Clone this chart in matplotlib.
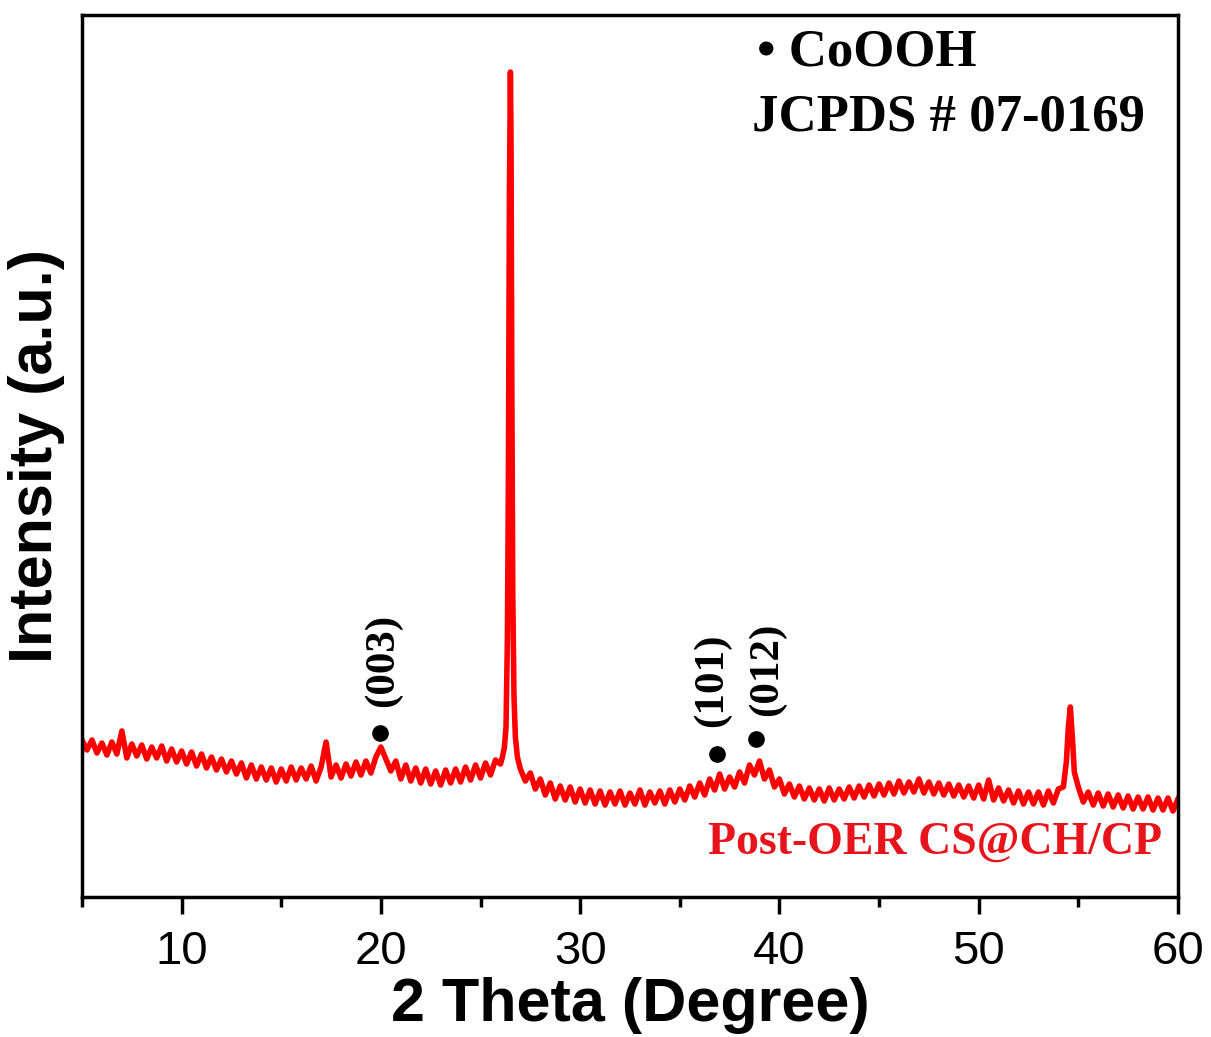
import matplotlib.pyplot as plt

# 2 theta (degree) and intensity (a.u.)
two_theta = [
    5.00, 5.25, 5.50, 5.75, 6.00, 6.25, 6.50, 6.75, 7.00, 7.25, 7.50, 7.75,
    8.00, 8.25, 8.50, 8.75, 9.00, 9.25, 9.50, 9.75,
    10.00, 10.25, 10.50, 10.75, 11.00, 11.25, 11.50, 11.75, 12.00, 12.25,
    12.50, 12.75, 13.00, 13.25, 13.50, 13.75, 14.00, 14.25, 14.50, 14.75,
    15.00, 15.25, 15.50, 15.75, 16.00, 16.25, 16.50, 16.75, 17.00, 17.25,
    17.50, 17.75, 18.00, 18.25, 18.50, 18.75, 19.00, 19.25, 19.50, 19.75,
    20.00, 20.25, 20.50, 20.75, 21.00, 21.25, 21.50, 21.75, 22.00, 22.25,
    22.50, 22.75, 23.00, 23.25, 23.50, 23.75, 24.00, 24.25, 24.50, 24.75,
    25.00, 25.25, 25.50, 25.75, 26.00, 26.10, 26.20, 26.28, 26.35, 26.40,
    26.45, 26.50, 26.53, 26.57, 26.62, 26.68, 26.75, 26.85, 27.00, 27.25,
    27.50, 27.75, 28.00, 28.25, 28.50, 28.75, 29.00, 29.25, 29.50, 29.75,
    30.00, 30.25, 30.50, 30.75, 31.00, 31.25, 31.50, 31.75, 32.00, 32.25,
    32.50, 32.75, 33.00, 33.25, 33.50, 33.75, 34.00, 34.25, 34.50, 34.75,
    35.00, 35.25, 35.50, 35.75, 36.00, 36.25, 36.50, 36.75, 37.00, 37.25,
    37.50, 37.75, 38.00, 38.25, 38.50, 38.75, 39.00, 39.25, 39.50, 39.75,
    40.00, 40.25, 40.50, 40.75, 41.00, 41.25, 41.50, 41.75, 42.00, 42.25,
    42.50, 42.75, 43.00, 43.25, 43.50, 43.75, 44.00, 44.25, 44.50, 44.75,
    45.00, 45.25, 45.50, 45.75, 46.00, 46.25, 46.50, 46.75, 47.00, 47.25,
    47.50, 47.75, 48.00, 48.25, 48.50, 48.75, 49.00, 49.25, 49.50, 49.75,
    50.00, 50.25, 50.50, 50.75, 51.00, 51.25, 51.50, 51.75, 52.00, 52.25,
    52.50, 52.75, 53.00, 53.25, 53.50, 53.75, 54.00, 54.25, 54.40, 54.50,
    54.60, 54.70, 54.80, 55.00, 55.25, 55.50, 55.75,
    56.00, 56.25, 56.50, 56.75, 57.00, 57.25, 57.50, 57.75, 58.00, 58.25,
    58.50, 58.75, 59.00, 59.25, 59.50, 59.75, 60.00,
]
intensity = [
    157, 147, 157, 144, 154, 142, 155, 143, 166, 139, 153, 141,
    152, 138, 150, 139, 151, 136, 148, 135,
    146, 133, 145, 131, 143, 129, 140, 127, 138, 125,
    136, 123, 134, 119, 132, 118, 130, 117, 129, 115,
    128, 116, 130, 117, 129, 118, 131, 116, 130, 155,
    120, 132, 119, 133, 121, 135, 122, 136, 124, 140,
    150, 138, 126, 136, 118, 132, 116, 129, 114, 128,
    113, 126, 112, 127, 114, 128, 115, 130, 117, 132,
    119, 134, 122, 137, 133, 140, 150, 170, 260, 420,
    700, 825, 760, 520, 300, 200, 160, 140, 128, 116,
    124, 108, 118, 102, 114, 98, 111, 97, 110, 95,
    108, 94, 107, 93, 106, 92, 105, 93, 106, 92,
    104, 93, 107, 92, 105, 94, 106, 93, 107, 95,
    108, 97, 111, 100, 114, 102, 118, 107, 123, 108,
    120, 110, 125, 114, 132, 122, 136, 118, 127, 110,
    118, 103, 113, 100, 111, 98, 109, 97, 108, 96,
    109, 97, 108, 98, 110, 99, 111, 100, 112, 101,
    113, 102, 114, 103, 116, 104, 115, 105, 118, 104,
    115, 103, 114, 102, 113, 101, 112, 100, 111, 99,
    112, 98, 117, 97, 109, 96, 107, 94, 106, 93,
    105, 93, 105, 92, 106, 94, 108, 110, 135, 170,
    190, 160, 125, 110, 95, 105, 92,
    104, 91, 103, 90, 102, 89, 101, 88, 100, 88,
    100, 87, 99, 87, 99, 86, 98,
]

# CoOOH reflections (JCPDS # 07-0169)
peak_pos = [19.95, 36.86, 38.82]
peak_height = [164, 143, 158]
peak_label = ["(003)", "(101)", "(012)"]
label_pos = [20.1, 36.6, 39.37]
label_height = [237, 217, 228]

serif = "Liberation Serif"
sans = "Liberation Sans"

fig = plt.figure(figsize=(12.11, 10.37), dpi=100)
ax = fig.add_axes([0.0677, 0.135, 0.905, 0.8505])

ax.plot(two_theta, intensity, color="#ff0000", linewidth=4)
ax.plot(peak_pos, peak_height, "o", color="black", markersize=11)

for x, y, lab in zip(label_pos, label_height, peak_label):
    ax.text(x, y, lab, rotation=90, ha="center", va="center",
            fontsize=31, fontweight="bold", family=serif)

ax.text(0.616, 0.958, "\u2022 CoOOH", transform=ax.transAxes, ha="left", va="center",
        fontsize=38, fontweight="bold", family=serif)
ax.text(0.611, 0.884, "JCPDS # 07-0169", transform=ax.transAxes, ha="left", va="center",
        fontsize=38, fontweight="bold", family=serif)
ax.text(0.985, 0.062, "Post-OER CS@CH/CP", transform=ax.transAxes, ha="right", va="center",
        fontsize=33, fontweight="bold", family=serif, color="#e8141c")

ax.set_xlim(5, 60)
ax.set_ylim(0, 882)
ax.set_xticks([10, 20, 30, 40, 50, 60])
ax.set_xticks([5, 15, 25, 35, 45, 55], minor=True)
ax.set_yticks([])

ax.tick_params(axis="x", which="major", direction="out", length=12, width=2.5,
               labelsize=34, pad=12)
ax.tick_params(axis="x", which="minor", direction="out", length=7, width=2.5)
for lab in ax.get_xticklabels():
    lab.set_family(sans)
for sp in ax.spines.values():
    sp.set_linewidth(2.5)

ax.set_xlabel("2 Theta (Degree)", fontsize=44, fontweight="bold", family=sans, labelpad=2)
ax.set_ylabel("Intensity (a.u.)", fontsize=44, fontweight="bold", family=sans, labelpad=12)

plt.savefig("out.png", dpi=100)
